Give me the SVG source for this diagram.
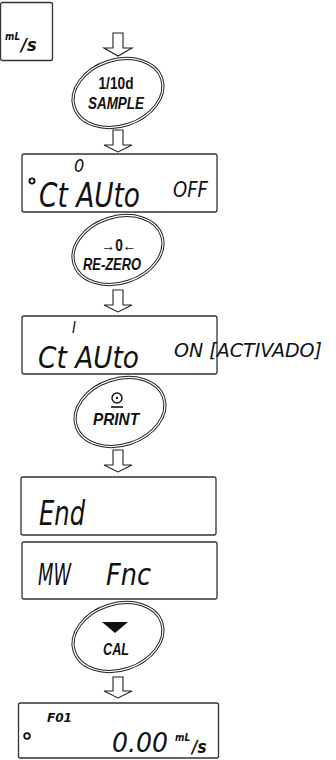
<svg xmlns="http://www.w3.org/2000/svg" width="336" height="760" viewBox="0 0 336 760">
<style>
.box{fill:#fff;stroke:#333;stroke-width:1.3}
.arr{fill:#fff;stroke:#222;stroke-width:1.1;stroke-linejoin:miter}
.ov1{fill:#fff;stroke:#222;stroke-width:3.2}
.ov2{fill:none;stroke:#fff;stroke-width:1.2}
.seg{font-family:"DejaVu Sans Condensed","DejaVu Sans",sans-serif;font-style:italic;fill:#111}
.btn{font-family:"Liberation Sans",Arial,sans-serif;font-weight:bold;fill:#111;text-anchor:middle}
</style>
<rect width="336" height="760" fill="#fff"/>
<g id="connectors">
<polygon class="arr" points="113,33 123,33 123,48 132,48 118,56 104,48 113,48"/>
<polygon class="arr" points="113,130 123,130 123,145 132,145 118,152 104,145 113,145"/>
<polygon class="arr" points="113,290 123,290 123,305 132,305 118,312 104,305 113,305"/>
<polygon class="arr" points="113,450 123,450 123,465 132,465 118,472 104,465 113,465"/>
<polygon class="arr" points="113,677 123,677 123,691 132,691 118,698 104,691 113,691"/>
</g>
<g id="unit-display">
<rect class="box" x="0.5" y="2.5" width="52" height="58" rx="2"/>
<text class="seg" x="5" y="40" font-size="10" font-weight="bold" font-style="normal">mL</text>
<text class="seg" x="21" y="51" font-size="18" font-weight="bold">/s</text>
</g>
<g id="btn-sample">
<ellipse class="ov1" cx="118" cy="93" rx="46" ry="33" transform="rotate(-18 118 93)"/>
<ellipse class="ov2" cx="118" cy="93" rx="46" ry="33" transform="rotate(-18 118 93)"/>
<text class="btn" x="116" y="89" font-size="17" textLength="35" lengthAdjust="spacingAndGlyphs">1/10d</text>
<text class="btn" x="116" y="109" font-size="17" font-style="italic" textLength="56" lengthAdjust="spacingAndGlyphs">SAMPLE</text>
</g>
<g id="disp-off">
<rect class="box" x="22" y="154" width="195" height="58" rx="2"/>
<text class="seg" x="74" y="172" font-size="18">0</text>
<circle cx="32" cy="181" r="2.6" fill="none" stroke="#111" stroke-width="1.8"/>
<text class="seg" x="39" y="207" font-size="33" textLength="101" lengthAdjust="spacingAndGlyphs">Ct AUto</text>
<text class="seg" x="173" y="197" font-size="22" textLength="35" lengthAdjust="spacingAndGlyphs">OFF</text>
</g>
<g id="btn-rezero">
<ellipse class="ov1" cx="118" cy="250" rx="46" ry="33" transform="rotate(-18 118 250)"/>
<ellipse class="ov2" cx="118" cy="250" rx="46" ry="33" transform="rotate(-18 118 250)"/>
<text class="btn" x="119" y="251" font-size="16" font-family="DejaVu Sans, sans-serif" textLength="35" lengthAdjust="spacingAndGlyphs">→0←</text>
<text class="btn" x="112" y="270" font-size="17" font-style="italic" textLength="58" lengthAdjust="spacingAndGlyphs">RE-ZERO</text>
</g>
<g id="disp-on">
<rect class="box" x="22" y="316" width="195" height="58" rx="2"/>
<text class="seg" x="72" y="333" font-size="15">I</text>
<text class="seg" x="38" y="368" font-size="31" textLength="101" lengthAdjust="spacingAndGlyphs">Ct AUto</text>
<text class="seg" x="174" y="357" font-size="20" textLength="148" lengthAdjust="spacingAndGlyphs">ON [ACTIVADO]</text>
</g>
<g id="btn-print">
<ellipse class="ov1" cx="120" cy="412" rx="46" ry="33" transform="rotate(-18 120 412)"/>
<ellipse class="ov2" cx="120" cy="412" rx="46" ry="33" transform="rotate(-18 120 412)"/>
<circle cx="117" cy="398" r="5" fill="none" stroke="#111" stroke-width="1.4"/>
<circle cx="117" cy="398" r="1.2" fill="#111"/>
<line x1="111" y1="407" x2="123" y2="407" stroke="#111" stroke-width="1.6"/>
<text class="btn" x="116" y="425" font-size="17" font-style="italic" textLength="46" lengthAdjust="spacingAndGlyphs">PRINT</text>
</g>
<g id="disp-end">
<rect class="box" x="21" y="477" width="195" height="58" rx="2"/>
<text class="seg" x="39" y="525" font-size="34" textLength="46" lengthAdjust="spacingAndGlyphs">End</text>
</g>
<g id="disp-fnc">
<rect class="box" x="22" y="542" width="195" height="57" rx="2"/>
<text class="seg" x="38" y="585" font-size="30" textLength="33" lengthAdjust="spacingAndGlyphs">MW</text>
<text class="seg" x="106" y="585" font-size="30" textLength="45" lengthAdjust="spacingAndGlyphs">Fnc</text>
</g>
<g id="btn-cal">
<ellipse class="ov1" cx="118" cy="637" rx="46" ry="33" transform="rotate(-18 118 637)"/>
<ellipse class="ov2" cx="118" cy="637" rx="46" ry="33" transform="rotate(-18 118 637)"/>
<polygon points="102,622 128,622 115,633" fill="#111"/>
<text class="btn" x="116" y="655" font-size="17" font-style="italic" textLength="26" lengthAdjust="spacingAndGlyphs">CAL</text>
</g>
<g id="disp-weight">
<rect class="box" x="18.5" y="703" width="200" height="55" rx="2"/>
<text class="seg" x="47" y="722" font-size="13" font-weight="bold" textLength="25" lengthAdjust="spacingAndGlyphs">F01</text>
<circle cx="27" cy="736" r="2.8" fill="none" stroke="#111" stroke-width="1.8"/>
<text class="seg" x="112" y="752" font-size="27" textLength="56" lengthAdjust="spacingAndGlyphs">0.00</text>
<text class="seg" x="175" y="741" font-size="10" font-weight="bold" font-style="normal">mL</text>
<text class="seg" x="192" y="753" font-size="17" font-weight="bold">/s</text>
</g>
</svg>
